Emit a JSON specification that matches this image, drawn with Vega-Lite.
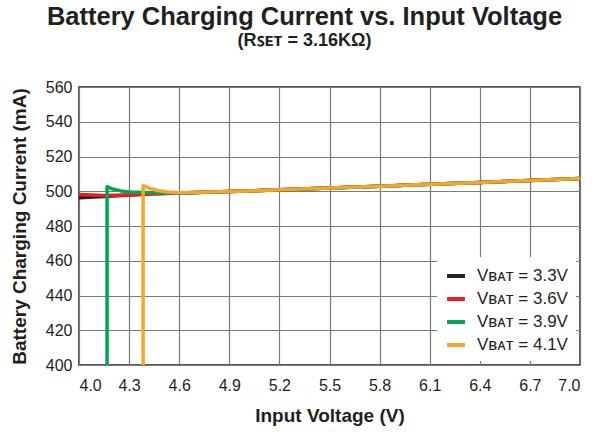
{
  "$schema": "https://vega.github.io/schema/vega-lite/v6.json",
  "width": 501,
  "height": 278,
  "autosize": {"type": "none"},
  "padding": {"left": 79, "top": 87, "right": 25, "bottom": 67},
  "background": "white",
  "title": {
    "text": "Battery Charging Current vs. Input Voltage",
    "subtitle": "(Rꜱᴇᴛ = 3.16KΩ)",
    "anchor": "middle",
    "dx": -25,
    "offset": 29,
    "font": "Liberation Sans",
    "fontSize": 25.5,
    "fontWeight": "bold",
    "color": "#231f20",
    "subtitleFont": "Liberation Sans",
    "subtitleFontSize": 18,
    "subtitleFontWeight": "bold",
    "subtitleColor": "#231f20",
    "subtitlePadding": 2
  },
  "config": {
    "view": {"stroke": "#231f20", "strokeWidth": 1.5},
    "font": "Liberation Sans",
    "axis": {
      "gridColor": "#7a7a7a",
      "gridWidth": 1.2,
      "gridOpacity": 1,
      "domain": false,
      "ticks": false,
      "labelFont": "Liberation Sans",
      "labelFontSize": 16,
      "labelColor": "#231f20",
      "titleFont": "Liberation Sans",
      "titleFontSize": 19,
      "titleFontWeight": "bold",
      "titleColor": "#231f20"
    }
  },
  "data": {
    "values": [
      {"s": "Vʙᴀᴛ = 3.3V", "i": 0, "v": 4.0, "ma": 496.3},
      {"s": "Vʙᴀᴛ = 3.3V", "i": 1, "v": 4.15, "ma": 497.0},
      {"s": "Vʙᴀᴛ = 3.3V", "i": 2, "v": 4.3, "ma": 497.8},
      {"s": "Vʙᴀᴛ = 3.3V", "i": 3, "v": 4.45, "ma": 498.5},
      {"s": "Vʙᴀᴛ = 3.3V", "i": 4, "v": 4.6, "ma": 499.0},
      {"s": "Vʙᴀᴛ = 3.3V", "i": 5, "v": 4.9, "ma": 499.8},
      {"s": "Vʙᴀᴛ = 3.3V", "i": 6, "v": 5.2, "ma": 500.8},
      {"s": "Vʙᴀᴛ = 3.3V", "i": 7, "v": 5.5, "ma": 501.8},
      {"s": "Vʙᴀᴛ = 3.3V", "i": 8, "v": 5.8, "ma": 502.9},
      {"s": "Vʙᴀᴛ = 3.3V", "i": 9, "v": 6.1, "ma": 504.0},
      {"s": "Vʙᴀᴛ = 3.3V", "i": 10, "v": 6.4, "ma": 505.1},
      {"s": "Vʙᴀᴛ = 3.3V", "i": 11, "v": 6.7, "ma": 506.2},
      {"s": "Vʙᴀᴛ = 3.3V", "i": 12, "v": 7.0, "ma": 507.4},
      {"s": "Vʙᴀᴛ = 3.6V", "i": 0, "v": 4.0, "ma": 498.2},
      {"s": "Vʙᴀᴛ = 3.6V", "i": 1, "v": 4.15, "ma": 497.6},
      {"s": "Vʙᴀᴛ = 3.6V", "i": 2, "v": 4.3, "ma": 497.9},
      {"s": "Vʙᴀᴛ = 3.6V", "i": 3, "v": 4.45, "ma": 498.6},
      {"s": "Vʙᴀᴛ = 3.6V", "i": 4, "v": 4.6, "ma": 499.0},
      {"s": "Vʙᴀᴛ = 3.6V", "i": 5, "v": 4.9, "ma": 499.8},
      {"s": "Vʙᴀᴛ = 3.6V", "i": 6, "v": 5.2, "ma": 500.8},
      {"s": "Vʙᴀᴛ = 3.6V", "i": 7, "v": 5.5, "ma": 501.8},
      {"s": "Vʙᴀᴛ = 3.6V", "i": 8, "v": 5.8, "ma": 502.9},
      {"s": "Vʙᴀᴛ = 3.6V", "i": 9, "v": 6.1, "ma": 504.0},
      {"s": "Vʙᴀᴛ = 3.6V", "i": 10, "v": 6.4, "ma": 505.1},
      {"s": "Vʙᴀᴛ = 3.6V", "i": 11, "v": 6.7, "ma": 506.2},
      {"s": "Vʙᴀᴛ = 3.6V", "i": 12, "v": 7.0, "ma": 507.4},
      {"s": "Vʙᴀᴛ = 3.9V", "i": 0, "v": 4.168, "ma": 400},
      {"s": "Vʙᴀᴛ = 3.9V", "i": 1, "v": 4.168, "ma": 502.6},
      {"s": "Vʙᴀᴛ = 3.9V", "i": 2, "v": 4.2, "ma": 501.3},
      {"s": "Vʙᴀᴛ = 3.9V", "i": 3, "v": 4.25, "ma": 500.2},
      {"s": "Vʙᴀᴛ = 3.9V", "i": 4, "v": 4.3, "ma": 499.6},
      {"s": "Vʙᴀᴛ = 3.9V", "i": 5, "v": 4.45, "ma": 499.1},
      {"s": "Vʙᴀᴛ = 3.9V", "i": 6, "v": 4.6, "ma": 499.0},
      {"s": "Vʙᴀᴛ = 3.9V", "i": 7, "v": 4.9, "ma": 499.8},
      {"s": "Vʙᴀᴛ = 3.9V", "i": 8, "v": 5.2, "ma": 500.8},
      {"s": "Vʙᴀᴛ = 3.9V", "i": 9, "v": 5.5, "ma": 501.8},
      {"s": "Vʙᴀᴛ = 3.9V", "i": 10, "v": 5.8, "ma": 502.9},
      {"s": "Vʙᴀᴛ = 3.9V", "i": 11, "v": 6.1, "ma": 504.0},
      {"s": "Vʙᴀᴛ = 3.9V", "i": 12, "v": 6.4, "ma": 505.1},
      {"s": "Vʙᴀᴛ = 3.9V", "i": 13, "v": 6.7, "ma": 506.2},
      {"s": "Vʙᴀᴛ = 3.9V", "i": 14, "v": 7.0, "ma": 507.4},
      {"s": "Vʙᴀᴛ = 4.1V", "i": 0, "v": 4.384, "ma": 400},
      {"s": "Vʙᴀᴛ = 4.1V", "i": 1, "v": 4.384, "ma": 503.3},
      {"s": "Vʙᴀᴛ = 4.1V", "i": 2, "v": 4.42, "ma": 501.8},
      {"s": "Vʙᴀᴛ = 4.1V", "i": 3, "v": 4.47, "ma": 500.4},
      {"s": "Vʙᴀᴛ = 4.1V", "i": 4, "v": 4.53, "ma": 499.6},
      {"s": "Vʙᴀᴛ = 4.1V", "i": 5, "v": 4.6, "ma": 499.1},
      {"s": "Vʙᴀᴛ = 4.1V", "i": 6, "v": 4.9, "ma": 499.8},
      {"s": "Vʙᴀᴛ = 4.1V", "i": 7, "v": 5.2, "ma": 500.8},
      {"s": "Vʙᴀᴛ = 4.1V", "i": 8, "v": 5.5, "ma": 501.8},
      {"s": "Vʙᴀᴛ = 4.1V", "i": 9, "v": 5.8, "ma": 502.9},
      {"s": "Vʙᴀᴛ = 4.1V", "i": 10, "v": 6.1, "ma": 504.0},
      {"s": "Vʙᴀᴛ = 4.1V", "i": 11, "v": 6.4, "ma": 505.1},
      {"s": "Vʙᴀᴛ = 4.1V", "i": 12, "v": 6.7, "ma": 506.2},
      {"s": "Vʙᴀᴛ = 4.1V", "i": 13, "v": 7.0, "ma": 507.4}
    ]
  },
  "mark": {"type": "line", "strokeWidth": 3.5, "clip": true, "strokeJoin": "round"},
  "encoding": {
    "x": {
      "field": "v",
      "type": "quantitative",
      "title": "Input Voltage (V)",
      "scale": {"domain": [4.0, 7.0], "nice": false, "zero": false},
      "axis": {"values": [4.0, 4.3, 4.6, 4.9, 5.2, 5.5, 5.8, 6.1, 6.4, 6.7, 7.0], "format": ".1f", "labelPadding": 12, "titlePadding": 13}
    },
    "y": {
      "field": "ma",
      "type": "quantitative",
      "title": "Battery Charging Current (mA)",
      "scale": {"domain": [400, 560], "nice": false, "zero": false},
      "axis": {"values": [400, 420, 440, 460, 480, 500, 520, 540, 560], "labelPadding": 7, "titlePadding": 16}
    },
    "color": {
      "field": "s",
      "type": "nominal",
      "title": null,
      "scale": {"range": ["#231f20", "#ed1c24", "#00a651", "#f5a52a"]},
      "legend": {
        "orient": "bottom-right",
        "offset": 4,
        "fillColor": "white",
        "padding": 8,
        "symbolType": "stroke",
        "symbolSize": 320,
        "symbolStrokeWidth": 4,
        "labelFont": "Liberation Sans",
        "labelFontSize": 17,
        "labelColor": "#231f20",
        "rowPadding": 4,
        "labelOffset": 10
      }
    },
    "order": {"field": "i", "type": "quantitative"}
  }
}
